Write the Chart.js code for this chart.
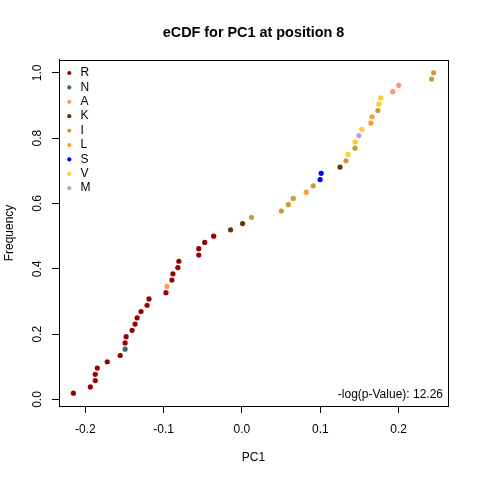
<!DOCTYPE html>
<html>
<head>
<meta charset="utf-8">
<script src="https://cdn.jsdelivr.net/npm/chart.js@4"></script>
<style>
    html, body { margin: 0; padding: 0; background: #fff; }
    #wrap { width: 480px; height: 480px; }
</style>
</head>
<body>
<div id="wrap"><canvas id="ecdf" width="480" height="480"></canvas></div>
<script>
// Residue categories shown in the legend, in legend order
const residues = ['R', 'N', 'A', 'K', 'I', 'L', 'S', 'V', 'M'];
const residueColors = ['#990000', '#3d6b6b', '#ff9966', '#663300', '#cc9933', '#ff9933', '#0000ff', '#ffcc33', '#cc99cc'];

// PC1 value of every sequence (sorted) and its residue at position 8
const pc1Values = [
    -0.2151, -0.1935, -0.1872, -0.1872, -0.1846, -0.1719, -0.1554, -0.1491, -0.1491, -0.1478,
    -0.1402, -0.1364, -0.1338, -0.1288, -0.1211, -0.1186, -0.0970, -0.0957, -0.0894, -0.0881,
    -0.0818, -0.0805, -0.0551, -0.0551, -0.0475, -0.0361, -0.0145, 0.0008, 0.0122, 0.0503,
    0.0592, 0.0655, 0.0820, 0.0909, 0.0998, 0.1011, 0.1252, 0.1328, 0.1354, 0.1443,
    0.1443, 0.1493, 0.1531, 0.1646, 0.1659, 0.1735, 0.1747, 0.1773, 0.1925, 0.2001,
    0.2420, 0.2446
];
const pointResidues = [
    'R', 'R', 'R', 'R', 'R', 'R', 'R', 'N', 'R', 'R',
    'R', 'R', 'R', 'R', 'R', 'R', 'R', 'A', 'R', 'R',
    'R', 'R', 'R', 'R', 'R', 'R', 'K', 'K', 'I', 'I',
    'I', 'I', 'L', 'I', 'S', 'S', 'K', 'I', 'V', 'I',
    'V', 'M', 'V', 'L', 'L', 'I', 'V', 'V', 'A', 'A',
    'I', 'I'
];

const xTicks = [-0.2, -0.1, 0.0, 0.1, 0.2];
const yTicks = [0.0, 0.2, 0.4, 0.6, 0.8, 1.0];
const pValueLabel = '-log(p-Value): 12.26';

const FONT = '"Liberation Sans", Arial, sans-serif';

// empirical CDF: k-th smallest value has frequency k/n
const n = pc1Values.length;
const points = pc1Values.map((v, i) => ({ x: v, y: (i + 1) / n }));
const pointColors = pointResidues.map(r => residueColors[residues.indexOf(r)]);

// R style axis limits: data range stretched by 4% at each side
function rRange(vals) {
    const lo = Math.min(...vals), hi = Math.max(...vals);
    const pad = (hi - lo) * 0.04;
    return [lo - pad, hi + pad];
}
const [xMin, xMax] = rRange(pc1Values);
const [yMin, yMax] = rRange(points.map(p => p.y));

const boxPlugin = {
    id: 'rBox',
    afterDraw(chart) {
        const { ctx, chartArea: a } = chart;
        ctx.save();
        ctx.strokeStyle = '#000';
        ctx.lineWidth = 1;
        ctx.strokeRect(Math.round(a.left) + 0.5, Math.round(a.top) + 0.5,
            Math.round(a.right - a.left), Math.round(a.bottom - a.top));

        // legend, top left inside the box
        ctx.font = '12px ' + FONT;
        ctx.textBaseline = 'middle';
        ctx.textAlign = 'left';
        residues.forEach((r, i) => {
            const y = a.top + 13 + i * 14.4;
            ctx.fillStyle = residueColors[i];
            ctx.beginPath();
            ctx.arc(a.left + 10.3, y, 2.1, 0, Math.PI * 2);
            ctx.fill();
            ctx.fillStyle = '#000';
            ctx.fillText(r, a.left + 21.5, y);
        });

        // p-value note, bottom right
        ctx.textAlign = 'right';
        ctx.fillText(pValueLabel, a.right - 5, a.bottom - 11.5);
        ctx.restore();
    }
};

new Chart(document.getElementById('ecdf'), {
    type: 'scatter',
    data: {
        datasets: [{
            data: points,
            pointBackgroundColor: pointColors,
            pointBorderWidth: 0,
            pointRadius: 2.6,
            pointHoverRadius: 2.6
        }]
    },
    options: {
        responsive: false,
        animation: false,
        devicePixelRatio: 1,
        layout: { padding: { left: 0, right: 32, top: 0, bottom: 0 } },
        plugins: {
            legend: { display: false },
            tooltip: { enabled: false },
            title: {
                display: true,
                fullSize: false,
                text: 'eCDF for PC1 at position 8',
                color: '#000',
                font: { family: FONT, size: 14.4, weight: 'bold' },
                padding: { top: 24, bottom: 18.7 }
            }
        },
        scales: {
            x: {
                type: 'linear',
                min: xMin,
                max: xMax,
                afterBuildTicks: s => { s.ticks = xTicks.map(v => ({ value: v })); },
                afterFit: s => { s.height = 74; },
                grid: { drawOnChartArea: false, drawTicks: true, tickLength: 7, color: '#000', tickColor: '#000' },
                border: { display: true, color: '#000' },
                ticks: {
                    color: '#000',
                    font: { family: FONT, size: 12 },
                    padding: 9,
                    maxRotation: 0,
                    callback: v => v.toFixed(1)
                },
                title: {
                    display: true,
                    text: 'PC1',
                    color: '#000',
                    font: { family: FONT, size: 12 },
                    padding: { top: 0, bottom: 15 }
                }
            },
            y: {
                type: 'linear',
                min: yMin,
                max: yMax,
                afterBuildTicks: s => { s.ticks = yTicks.map(v => ({ value: v })); },
                afterFit: s => { s.width = 59; },
                grid: { drawOnChartArea: false, drawTicks: true, tickLength: 7, color: '#000', tickColor: '#000' },
                border: { display: true, color: '#000' },
                ticks: {
                    color: '#000',
                    font: { family: FONT, size: 12 },
                    padding: 5.5,
                    minRotation: 90,
                    maxRotation: 90,
                    crossAlign: 'center',
                    callback: v => v.toFixed(1)
                },
                title: {
                    display: true,
                    text: 'Frequency',
                    color: '#000',
                    font: { family: FONT, size: 12 },
                    padding: { top: 2, bottom: 0 }
                }
            }
        }
    },
    plugins: [boxPlugin]
});
</script>
</body>
</html>
